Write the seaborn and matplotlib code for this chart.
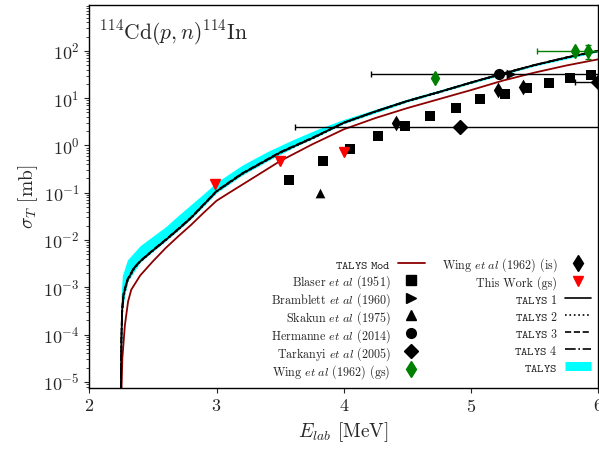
import numpy as np
import matplotlib
matplotlib.use('agg')
import matplotlib.pyplot as plt
import seaborn as sns
from matplotlib.lines import Line2D

# TALYS curves, energies in MeV, cross sections as log10(mb)
talys_e = [2.248, 2.252, 2.258, 2.27, 2.30, 2.35, 2.4, 2.5, 2.6, 2.7, 2.8, 2.9, 3.0,
           3.2, 3.4, 3.5, 3.75, 4.0, 4.25, 4.5, 4.75, 5.0, 5.25, 5.5, 5.75, 6.0]
talys1_log = [-5.3, -4.2, -3.5, -3.15, -2.85, -2.6, -2.45, -2.22, -2.0, -1.77, -1.53, -1.25, -0.97,
              -0.6, -0.3, -0.15, 0.15, 0.48, 0.72, 0.94, 1.13, 1.33, 1.52, 1.70, 1.86, 2.0]
talys2_log = [-5.3, -4.3, -3.6, -3.2, -2.88, -2.62, -2.46, -2.23, -2.01, -1.78, -1.54, -1.26, -0.98,
              -0.61, -0.31, -0.16, 0.14, 0.47, 0.71, 0.93, 1.12, 1.32, 1.51, 1.69, 1.85, 1.99]
talys3_log = [-5.3, -4.1, -3.45, -3.12, -2.83, -2.59, -2.44, -2.21, -1.99, -1.76, -1.52, -1.24, -0.96,
              -0.59, -0.29, -0.14, 0.16, 0.48, 0.72, 0.94, 1.13, 1.33, 1.52, 1.70, 1.86, 2.0]
talys4_log = [-5.3, -4.15, -3.48, -3.14, -2.84, -2.6, -2.45, -2.22, -2.0, -1.77, -1.53, -1.25, -0.97,
              -0.6, -0.3, -0.15, 0.15, 0.48, 0.72, 0.94, 1.13, 1.33, 1.52, 1.70, 1.86, 2.0]

mod_e = [2.252, 2.26, 2.28, 2.305, 2.33, 2.4, 2.5, 2.6, 2.7, 2.8, 2.9, 3.0, 3.1,
         3.25, 3.5, 3.75, 4.0, 4.25, 4.5, 4.75, 5.0, 5.25, 5.5, 5.75, 6.0]
mod_log = [-5.3, -4.5, -3.8, -3.3, -3.05, -2.75, -2.45, -2.17, -1.92, -1.68, -1.42, -1.17, -1.0,
           -0.75, -0.33, 0.02, 0.34, 0.58, 0.79, 0.98, 1.17, 1.37, 1.54, 1.69, 1.82]

band_e = [2.245, 2.25, 2.26, 2.3, 2.4, 2.5, 2.6, 2.7, 2.8, 2.9, 3.0, 3.2, 3.4, 3.6, 3.8,
          4.0, 4.5, 5.0, 5.5, 6.0]
band_hi_log = [-5.3, -3.2, -2.75, -2.42, -2.12, -1.92, -1.72, -1.48, -1.25, -1.02, -0.78, -0.42,
               -0.13, 0.12, 0.35, 0.55, 0.98, 1.36, 1.72, 2.02]
band_lo_log = [-5.3, -4.5, -3.45, -2.88, -2.47, -2.24, -2.02, -1.79, -1.55, -1.28, -1.0, -0.63,
               -0.33, -0.05, 0.2, 0.46, 0.92, 1.31, 1.68, 1.98]

# experimental data (E in MeV, sigma in mb)
blaser_e = [3.57, 3.84, 4.05, 4.27, 4.48, 4.68, 4.88, 5.07, 5.27, 5.44, 5.61, 5.78, 5.94]
blaser_s = [0.19, 0.46, 0.85, 1.55, 2.6, 4.2, 6.2, 9.5, 12.3, 16.0, 21.0, 26.0, 31.0]

bramblett_e = [5.31]
bramblett_s = [33.0]

skakun_e = [3.81]
skakun_s = [0.10]

hermanne_e = [5.22]
hermanne_s = [31.6]
hermanne_xerr = [1.01]

tarkanyi_e = [4.91, 6.0]
tarkanyi_s = [2.5, 22.0]
tarkanyi_xerr = [1.29, 0.18]

wing_gs_e = [4.72, 5.82, 5.92]
wing_gs_s = [27.0, 100.0, 100.0]
wing_gs_xerr = [0.0, 0.30, 0.0]
wing_gs_yerr = [[0.0, 0.0, 33.0], [0.0, 0.0, 30.0]]

wing_is_e = [4.41, 5.21, 5.41]
wing_is_s = [3.0, 14.5, 17.0]

this_e = [2.99, 3.50, 4.00]
this_s = [0.15, 0.47, 0.74]
this_yerr = [0.0, 0.0, 0.1]

sns.set_style("ticks")
plt.rcParams['font.family'] = 'serif'
plt.rcParams['font.serif'] = ['cmr10', 'DejaVu Serif']
plt.rcParams['mathtext.fontset'] = 'cm'
plt.rcParams['axes.formatter.use_mathtext'] = True
plt.rcParams['axes.unicode_minus'] = False

fig = plt.figure(figsize=(5.99, 4.51), dpi=100)
ax = fig.add_axes([0.149, 0.140, 0.850, 0.849])

band_lo = 10 ** np.array(band_lo_log)
band_hi = 10 ** np.array(band_hi_log)
ax.fill_between(band_e, band_lo, band_hi, color='cyan', lw=0, zorder=1)

sns.lineplot(x=mod_e, y=10 ** np.array(mod_log), ax=ax, color='#8b0000', lw=1.3, zorder=2)
sns.lineplot(x=talys_e, y=10 ** np.array(talys1_log), ax=ax, color='black', lw=1.3, ls='-', zorder=3)
sns.lineplot(x=talys_e, y=10 ** np.array(talys2_log), ax=ax, color='black', lw=1.2, ls=':', zorder=3)
sns.lineplot(x=talys_e, y=10 ** np.array(talys3_log), ax=ax, color='black', lw=1.2, ls='--', zorder=3)
sns.lineplot(x=talys_e, y=10 ** np.array(talys4_log), ax=ax, color='black', lw=1.2, ls='-.', zorder=3)

ms = 7
sns.scatterplot(x=blaser_e, y=blaser_s, ax=ax, marker='s', color='black', s=ms**2, linewidth=0, zorder=4)
sns.scatterplot(x=bramblett_e, y=bramblett_s, ax=ax, marker='>', color='black', s=ms**2, linewidth=0, zorder=4)
sns.scatterplot(x=skakun_e, y=skakun_s, ax=ax, marker='^', color='black', s=ms**2, linewidth=0, zorder=4)
sns.scatterplot(x=wing_is_e, y=wing_is_s, ax=ax, marker='d', color='black', s=(ms + 1)**2, linewidth=0, zorder=4)
ax.errorbar(hermanne_e, hermanne_s, xerr=hermanne_xerr, fmt='o', color='black', ms=ms,
            elinewidth=1, capsize=2, zorder=4)
ax.errorbar(tarkanyi_e, tarkanyi_s, xerr=tarkanyi_xerr, fmt='D', color='black', ms=ms,
            elinewidth=1, capsize=2, zorder=4)
ax.errorbar(wing_gs_e, wing_gs_s, xerr=wing_gs_xerr, yerr=wing_gs_yerr, fmt='d', color='green',
            ms=ms, elinewidth=1, capsize=2, zorder=4)
ax.errorbar(this_e, this_s, yerr=this_yerr, fmt='v', color='red', ms=ms,
            elinewidth=1, capsize=0, zorder=5)

ax.set_yscale('log')
ax.set_xlim(2, 6)
ax.set_ylim(7.5e-6, 930)
ax.set_xticks([2, 3, 4, 5, 6])
ax.set_yticks([1e-5, 1e-4, 1e-3, 1e-2, 1e-1, 1, 10, 100])
ax.yaxis.set_minor_locator(matplotlib.ticker.LogLocator(base=10, subs=np.arange(2, 10), numticks=20))
ax.tick_params(axis='both', which='major', labelsize=13, length=3.5, width=0.8, direction='out')
ax.tick_params(axis='y', which='minor', length=2, width=0.6)
for sp in ax.spines.values():
    sp.set_linewidth(1.0)
    sp.set_color('black')

ax.set_xlabel(r"$E_{lab}$ [MeV]", fontsize=14, labelpad=4)
ax.set_ylabel(r"$\sigma_T$ [mb]", fontsize=14, labelpad=2)
ax.text(0.02, 0.965, r"$^{114}$Cd$(p,n)^{114}$In", transform=ax.transAxes, va='top', ha='left', fontsize=15.5)

def mk(marker, color, size=ms):
    return Line2D([], [], ls='none', marker=marker, color=color, ms=size)

handles = [Line2D([], [], color='#8b0000', lw=1.3),
           mk('s', 'black'), mk('>', 'black'), mk('^', 'black'), mk('o', 'black'),
           mk('D', 'black'), mk('d', 'green', ms + 1),
           mk('d', 'black', ms + 1), mk('v', 'red'),
           Line2D([], [], color='black', lw=1.2, ls='-'),
           Line2D([], [], color='black', lw=1.2, ls=':'),
           Line2D([], [], color='black', lw=1.2, ls='--'),
           Line2D([], [], color='black', lw=1.2, ls='-.'),
           Line2D([], [], color='cyan', lw=6.5, solid_capstyle='butt')]
labels = [r"$\mathtt{TALYS\ Mod}$",
          r"Blaser $\mathit{et\ al}$ (1951)",
          r"Bramblett $\mathit{et\ al}$ (1960)",
          r"Skakun $\mathit{et\ al}$ (1975)",
          r"Hermanne $\mathit{et\ al}$ (2014)",
          r"Tarkanyi $\mathit{et\ al}$ (2005)",
          r"Wing $\mathit{et\ al}$ (1962) (gs)",
          r"Wing $\mathit{et\ al}$ (1962) (is)",
          r"This Work (gs)",
          r"$\mathtt{TALYS\ 1}$",
          r"$\mathtt{TALYS\ 2}$",
          r"$\mathtt{TALYS\ 3}$",
          r"$\mathtt{TALYS\ 4}$",
          r"$\mathtt{TALYS}$"]
# tall handle boxes keep every legend row the same height
ax.legend(handles, labels, ncol=2, loc='lower right', bbox_to_anchor=(1.0, 0.0),
          markerfirst=False, frameon=False, fontsize=8.7, labelspacing=0.0,
          handleheight=1.8, columnspacing=1.4, handlelength=2.2, handletextpad=0.6,
          borderaxespad=0.2)

fig.savefig('out.png', dpi=100)
